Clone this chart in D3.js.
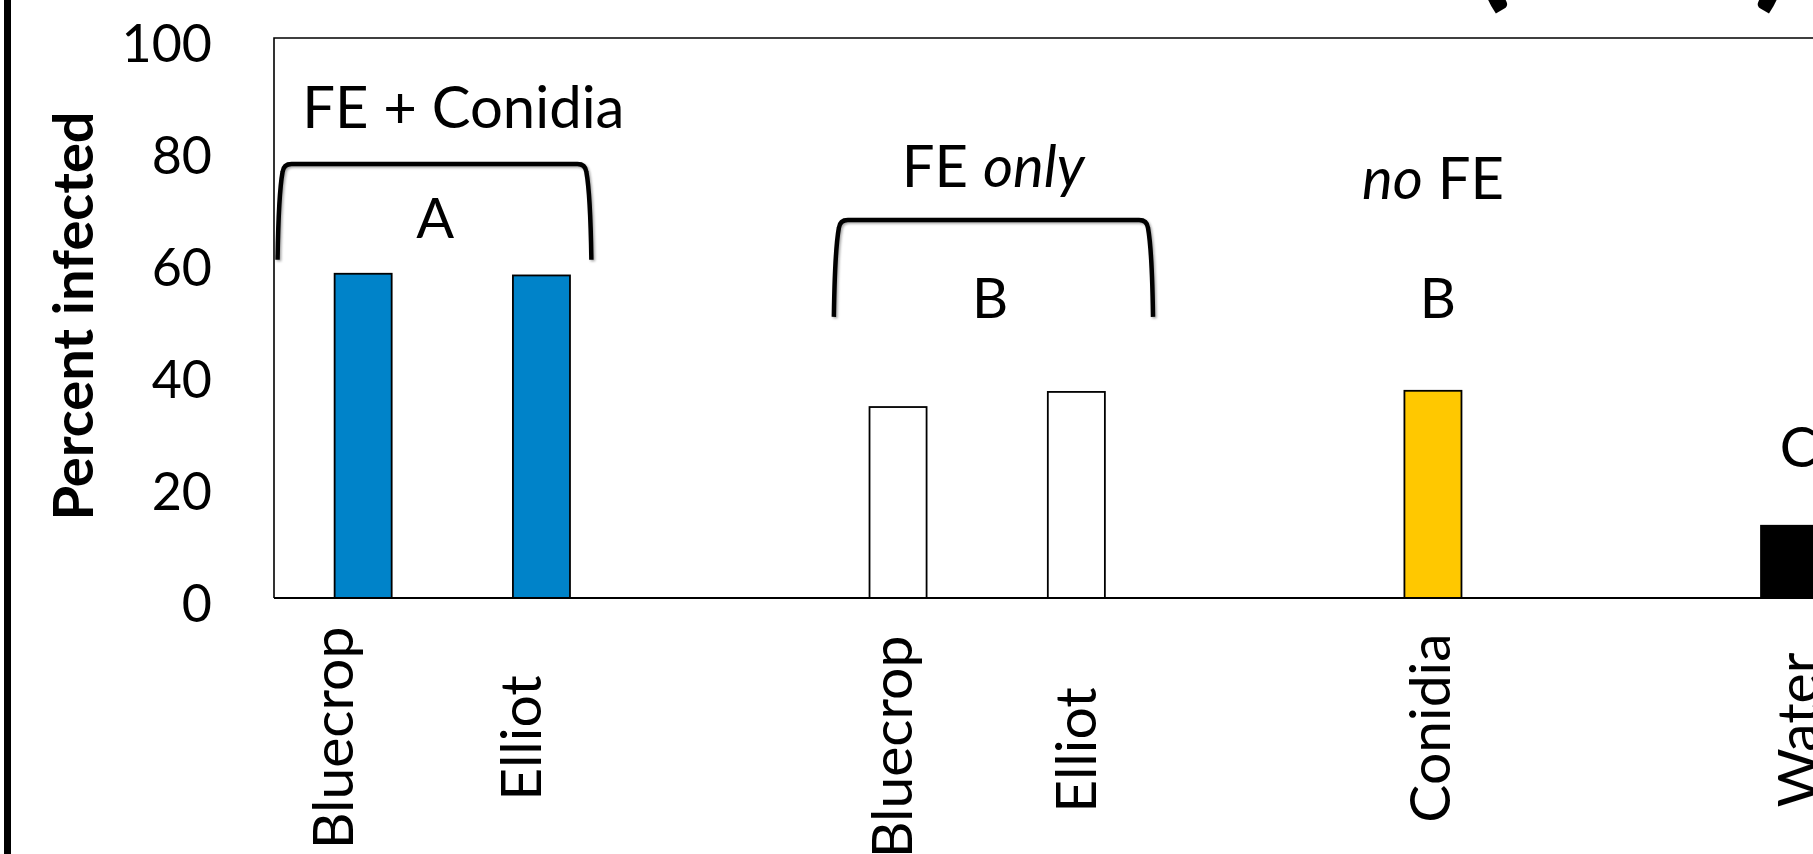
<!DOCTYPE html>
<html>
<head>
<meta charset="utf-8">
<script src="https://cdn.jsdelivr.net/npm/d3@7"></script>
<style>
  html, body { margin: 0; padding: 0; background: #ffffff; overflow: hidden; }
  svg { display: block; }
</style>
</head>
<body>
<svg id="chart" width="1813" height="854"></svg>
<script>
// ---------------- data ----------------
const categories = ["FE+C Bluecrop", "FE+C Elliot", "gap 1", "FE Bluecrop", "FE Elliot", "gap 2", "Conidia", "gap 3", "Water"];
const tickLabels = ["Bluecrop", "Elliot", "", "Bluecrop", "Elliot", "", "Conidia", "", "Water"];
const percentInfected = [57.9, 57.6, null, 34.1, 36.8, null, 37.0, null, 12.9];
const treatment = ["FE + Conidia", "FE + Conidia", null, "FE only", "FE only", null, "no FE", null, "Water"];
const yTickValues = [0, 20, 40, 60, 80, 100];
const yTitle = "Percent infected";
const groupTitles = [
  [["FE + Conidia", false]],
  [["FE ", false], ["only", true]],
  [["no", true], [" FE", false]]
];
const sigLetters = ["A", "B", "B", "C"];

// ---------------- layout / style ----------------
const W = 1813, H = 854;
const M = { left: 274, top: 38, bottom: 598, slot: 178.3 };
const FONT = "Lato, 'Open Sans', 'Liberation Sans', sans-serif";
const colorOf = d3.scaleOrdinal()
  .domain(["FE + Conidia", "FE only", "no FE", "Water"])
  .range(["#0083C9", "#FFFFFF", "#FFC800", "#000000"]);

// annotation placement (group member indices, value-axis height, small nudges)
const titleLayout = [
  { cats: [0, 1], y: 83.9, dx: 11 },
  { cats: [3, 4], y: 73.4, dx: 6 },
  { cats: [6],    y: 71.2, dx: 0 }
];
const letterLayout = [
  { cats: [0, 1], y: 64.3, dx: -17 },
  { cats: [3, 4], y: 50.0, dx: 3 },
  { cats: [6],    y: 50.0, dx: 5 },
  { cats: [8],    y: 23.4, dx: 9 }
];
const bracketLayout = [
  { from: 0.02, to: 1.78, top: 77.5, foot: 60.4 },
  { from: 3.14, to: 4.93, top: 67.5, foot: 50.2 }
];
// tick label nudges (baseline offset from tick, vertical centre)
const labelShift = [-10, 0, 14, 20, 17, 28];
const labelCentre = [738, 738, 747, 750, 728, 730];

// ---------------- scales ----------------
const x = d3.scaleBand()
  .domain(categories)
  .range([M.left, M.left + categories.length * M.slot])
  .paddingInner(0.68)
  .paddingOuter(0.34);
const slotX = d3.scaleLinear().domain([0, categories.length]).range(x.range());
const y = d3.scaleLinear().domain([0, 100]).range([M.bottom, M.top]);
const cx = i => x(categories[i]) + x.bandwidth() / 2;

const svg = d3.select("#chart");
svg.append("rect").attr("width", W).attr("height", H).attr("fill", "#fff");

const defs = svg.append("defs");
const f = defs.append("filter").attr("id", "shadow").attr("x", "-10%").attr("y", "-10%").attr("width", "130%").attr("height", "130%");
f.append("feDropShadow").attr("dx", 1.5).attr("dy", 1.5).attr("stdDeviation", 1).attr("flood-color", "#000").attr("flood-opacity", 0.35);

// left thick border
svg.append("line").attr("x1", 7.5).attr("x2", 7.5).attr("y1", 0).attr("y2", H)
  .attr("stroke", "#000").attr("stroke-width", 7);

// title parentheses (mostly cut off at the top)
svg.append("text").attr("x", 1472).attr("y", -9).attr("font-family", FONT).attr("font-weight", 900)
  .attr("font-size", 140).text("(");
svg.append("text").attr("x", 1754).attr("y", -9).attr("font-family", FONT).attr("font-weight", 900)
  .attr("font-size", 140).text(")");

// plot frame (top & left)
svg.append("path")
  .attr("d", `M${x.range()[1]},${y(100)} H${M.left} V${M.bottom}`)
  .attr("fill", "none").attr("stroke", "#000").attr("stroke-width", 1.6);

// y axis
const yAxis = svg.append("g").attr("transform", `translate(${M.left},0)`)
  .call(d3.axisLeft(y).tickValues(yTickValues).tickSize(0).tickPadding(62));
yAxis.select(".domain").remove();
yAxis.selectAll("text").attr("font-family", FONT).attr("font-size", 52).attr("fill", "#000")
  .attr("dy", "0.46em");

// y title
svg.append("text")
  .attr("transform", `translate(93,316) rotate(-90)`)
  .attr("text-anchor", "middle").attr("font-family", FONT).attr("font-weight", 700)
  .attr("font-size", 56).text(yTitle);

// bars
const idx = d3.range(categories.length).filter(i => percentInfected[i] != null);
svg.append("g").selectAll("rect").data(idx).join("rect")
  .attr("x", i => x(categories[i]))
  .attr("width", x.bandwidth())
  .attr("y", i => y(percentInfected[i]))
  .attr("height", i => y(0) - y(percentInfected[i]))
  .attr("fill", i => colorOf(treatment[i]))
  .attr("stroke", "#000").attr("stroke-width", 1.8);

// x axis line
const xAxis = svg.append("g").attr("transform", `translate(0,${M.bottom})`)
  .call(d3.axisBottom(x).tickSize(0).tickFormat(() => ""));
xAxis.select(".domain").attr("stroke-width", 2.2).attr("d", `M${M.left},0H${x.range()[1]}`);
xAxis.selectAll(".tick").remove();

// x tick labels (rotated)
const labelled = d3.range(categories.length).filter(i => tickLabels[i] !== "");
svg.append("g").selectAll("text").data(labelled).join("text")
  .attr("transform", (i, k) => `translate(${cx(i) + labelShift[k]},${labelCentre[k]}) rotate(-90)`)
  .attr("text-anchor", "middle")
  .attr("font-family", FONT).attr("font-size", 57).attr("fill", "#000")
  .text(i => tickLabels[i]);

// brackets
svg.append("g").selectAll("path").data(bracketLayout).join("path")
  .attr("d", b => {
    const x1 = slotX(b.from), x2 = slotX(b.to), yt = y(b.top), yb = y(b.foot);
    const p = d3.path();
    p.moveTo(x1, yb);
    p.quadraticCurveTo(x1 + 1, yt + 30, x1 + 5, yt + 8);
    p.quadraticCurveTo(x1 + 6, yt, x1 + 14, yt);
    p.lineTo(x2 - 14, yt);
    p.quadraticCurveTo(x2 - 6, yt, x2 - 5, yt + 8);
    p.quadraticCurveTo(x2 - 1, yt + 30, x2, yb);
    return p.toString();
  })
  .attr("fill", "none").attr("stroke", "#000").attr("stroke-width", 4.5)
  .attr("filter", "url(#shadow)");

// group titles
const gMean = cats => d3.mean(cats, cx);
const tg = svg.append("g").selectAll("text").data(titleLayout).join("text")
  .attr("x", (t) => gMean(t.cats) + t.dx)
  .attr("y", t => y(t.y))
  .attr("text-anchor", "middle").attr("font-family", FONT).attr("font-size", 58).attr("fill", "#000");
tg.each(function (t, k) {
  d3.select(this).selectAll("tspan").data(groupTitles[k]).join("tspan")
    .attr("font-style", d => d[1] ? "italic" : "normal")
    .text(d => d[0]);
});

// significance letters
svg.append("g").selectAll("text").data(letterLayout).join("text")
  .attr("x", (l) => gMean(l.cats) + l.dx)
  .attr("y", l => y(l.y))
  .attr("text-anchor", "middle").attr("font-family", FONT).attr("font-size", 56).attr("fill", "#000")
  .text((l, k) => sigLetters[k]);
</script>
</body>
</html>
